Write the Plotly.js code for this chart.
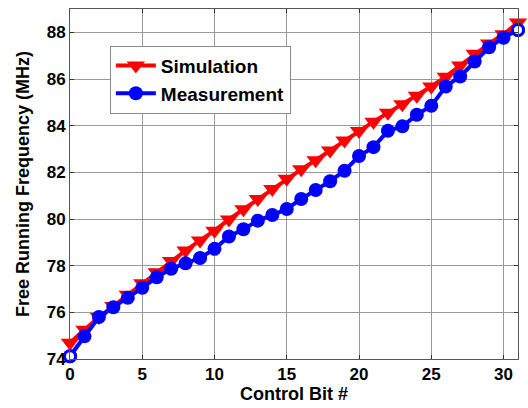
<!DOCTYPE html>
<html>
<head>
<meta charset="utf-8">
<script src="https://cdn.plot.ly/plotly-3.0.1.min.js"></script>
<style>html,body{margin:0;padding:0;background:#fff;}#chart{width:528px;height:408px;}</style>
</head>
<body>
<div id="chart"></div>
<script>
const controlBits = [0,1,2,3,4,5,6,7,8,9,10,11,12,13,14,15,16,17,18,19,20,21,22,23,24,25,26,27,28,29,30,31];
const simulation = [74.7,75.25,75.8,76.27,76.75,77.25,77.72,78.2,78.65,79.08,79.5,79.98,80.42,80.86,81.29,81.72,82.13,82.52,82.94,83.36,83.77,84.17,84.55,84.92,85.28,85.68,86.1,86.58,87.08,87.52,87.92,88.42];
const measurement = [74.12,74.97,75.8,76.22,76.62,77.05,77.5,77.87,78.1,78.33,78.72,79.25,79.56,79.93,80.17,80.43,80.86,81.24,81.62,82.07,82.7,83.08,83.78,83.97,84.47,84.85,85.68,86.11,86.75,87.36,87.77,88.1];
const xTicks = [0,5,10,15,20,25,30];
const yTicks = [74,76,78,80,82,84,86,88];

const last = controlBits.length - 1;
const font = {family: 'Arial, "Liberation Sans", sans-serif', size: 17, color: '#000', weight: 'bold'};
const bigFont = {family: 'Arial, "Liberation Sans", sans-serif', size: 18, color: '#000', weight: 'bold'};
const legFont = {family: 'Arial, "Liberation Sans", sans-serif', size: 19, color: '#000', weight: 'bold'};

const traces = [
  {x: controlBits, y: simulation, name: 'Simulation', mode: 'lines+markers', cliponaxis: false,
   line: {color: '#ff0000', width: 4},
   marker: {symbol: 'triangle-down', size: 16, color: '#ff0000'}},
  {x: controlBits, y: measurement, name: 'Measurement', mode: 'lines+markers', cliponaxis: false,
   line: {color: '#0000ff', width: 4},
   marker: {symbol: 'circle', size: 14, color: '#0000ff'}},
  {x: [controlBits[0], controlBits[last]], y: [measurement[0], measurement[last]],
   mode: 'markers', showlegend: false, hoverinfo: 'skip', cliponaxis: false,
   marker: {symbol: 'circle', size: 11, color: '#ffffff', line: {color: '#0000ff', width: 3}}}
];

const layout = {
  width: 528, height: 408,
  margin: {l: 70, r: 10, t: 9, b: 49},
  paper_bgcolor: '#fff', plot_bgcolor: '#fff',
  font: font,
  showlegend: true,
  legend: {x: 0.089, y: 0.895, xanchor: 'left', yanchor: 'top',
    bgcolor: '#fff', bordercolor: '#888', borderwidth: 1, itemwidth: 40,
    font: legFont, tracegroupgap: 0},
  xaxis: {range: [0, 31], tickvals: xTicks, ticks: 'inside', ticklen: 4, tickcolor: '#333',
    showgrid: true, gridcolor: '#999', gridwidth: 1, zeroline: false,
    showline: true, linecolor: '#555', linewidth: 1, mirror: 'ticks',
    tickfont: font, title: {text: 'Control Bit #', font: bigFont, standoff: 2}},
  yaxis: {range: [74, 89], tickvals: yTicks, ticks: 'inside', ticklen: 4, tickcolor: '#333',
    showgrid: true, gridcolor: '#999', gridwidth: 1, zeroline: false,
    showline: true, linecolor: '#555', linewidth: 1, mirror: 'ticks',
    tickfont: font, title: {text: 'Free Running Frequency (MHz)', font: bigFont, standoff: 12}}
};

Plotly.newPlot('chart', traces, layout, {displayModeBar: false, staticPlot: true});
</script>
</body>
</html>
